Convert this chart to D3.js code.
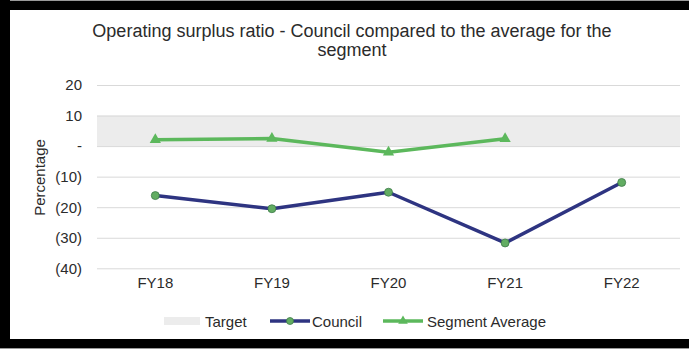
<!DOCTYPE html>
<html>
<head>
<meta charset="utf-8">
<script src="https://cdn.jsdelivr.net/npm/d3@7"></script>
<style>
  html, body { margin: 0; padding: 0; background: #fff; }
  svg { display: block; font-family: "Liberation Sans", Arial, sans-serif; }
</style>
</head>
<body>
<svg id="chart" width="689" height="349"></svg>
<script>
// Financial years on the x axis
const years = ["FY18", "FY19", "FY20", "FY21", "FY22"];
// Operating surplus ratio (%) for the council
const councilValues = [-16.2, -20.5, -15.1, -31.7, -11.9];
// Segment average (%) — no figure yet for FY22
const segmentValues = [2.1, 2.5, -2.0, 2.4, null];
// Target range (%)
const targetRange = [0, 10];
// Y axis ticks
const yTicks = [20, 10, 0, -10, -20, -30, -40];

const svg = d3.select("#chart");
const W = 689, H = 349;
const textColor = "#2b2b2b";
const councilColor = "#2e3481";
const segmentColor = "#5cb85c";
const markerFill = "#62ad62";
const FONT = "Liberation Sans, Arial, sans-serif";

// Frame
svg.append("rect").attr("x", 0).attr("y", 0).attr("width", W).attr("height", 1).attr("fill", "#999");
svg.append("rect").attr("x", 0).attr("y", 1).attr("width", W).attr("height", 9).attr("fill", "#000");
svg.append("rect").attr("x", 0).attr("y", 0).attr("width", 10).attr("height", H).attr("fill", "#000");
svg.append("rect").attr("x", 0).attr("y", 339).attr("width", W).attr("height", 9).attr("fill", "#000");
svg.append("rect").attr("x", 0).attr("y", 348).attr("width", W).attr("height", 1).attr("fill", "#999");

const x = d3.scaleBand().domain(years).range([97, 680]);
const y = d3.scaleLinear().domain([-40, 20]).range([268.3, 85]);

// Title
const title = svg.append("text")
  .attr("text-anchor", "middle")
  .attr("fill", textColor)
  .attr("font-size", 18);
title.append("tspan").attr("x", 352).attr("y", 37)
  .text("Operating surplus ratio - Council compared to the average for the");
title.append("tspan").attr("x", 352).attr("y", 56).text("segment");

// Target band
svg.append("rect")
  .attr("x", 97)
  .attr("width", 583)
  .attr("y", y(targetRange[1]))
  .attr("height", y(targetRange[0]) - y(targetRange[1]))
  .attr("fill", "#ececec");

// Gridlines + y axis labels
const yAxis = d3.axisLeft(y)
  .tickValues(yTicks)
  .tickSize(-583)
  .tickPadding(15)
  .tickFormat(d => d === 0 ? "-" : d < 0 ? `(${Math.abs(d)})` : `${d}`);
const gy = svg.append("g").attr("transform", "translate(97,0)").call(yAxis);
gy.select(".domain").remove();
gy.selectAll(".tick line").attr("stroke", "#d9d9d9").attr("stroke-width", 1);
gy.selectAll(".tick text").attr("fill", textColor).attr("font-size", 15)
  .attr("font-family", FONT);

// Y axis title
svg.append("text")
  .attr("transform", "translate(45,177.5) rotate(-90)")
  .attr("text-anchor", "middle")
  .attr("fill", textColor)
  .attr("font-size", 15)
  .text("Percentage");

// X axis labels
const xAxis = d3.axisBottom(x).tickSize(0).tickPadding(0);
const gx = svg.append("g").attr("transform", "translate(0,277)").call(xAxis);
gx.select(".domain").remove();
gx.selectAll(".tick text").attr("fill", textColor).attr("font-size", 15)
  .attr("font-family", FONT);

const cx = d => x(d) + x.bandwidth() / 2;

// Council line
const councilData = years.map((d, i) => ({ year: d, v: councilValues[i] }));
svg.append("path")
  .datum(councilData)
  .attr("fill", "none")
  .attr("stroke", councilColor)
  .attr("stroke-width", 3.5)
  .attr("stroke-linejoin", "round")
  .attr("d", d3.line().x(d => cx(d.year)).y(d => y(d.v)));
svg.selectAll(".council-pt")
  .data(councilData)
  .join("circle")
  .attr("cx", d => cx(d.year))
  .attr("cy", d => y(d.v))
  .attr("r", 4)
  .attr("fill", markerFill)
  .attr("stroke", "#3d7a4a")
  .attr("stroke-width", 0.8);

// Segment average line
const segmentData = years.map((d, i) => ({ year: d, v: segmentValues[i] })).filter(d => d.v !== null);
svg.append("path")
  .datum(segmentData)
  .attr("fill", "none")
  .attr("stroke", segmentColor)
  .attr("stroke-width", 3.5)
  .attr("stroke-linejoin", "round")
  .attr("d", d3.line().x(d => cx(d.year)).y(d => y(d.v)));
const tri = d3.symbol().type(d3.symbolTriangle).size(55);
svg.selectAll(".seg-pt")
  .data(segmentData)
  .join("path")
  .attr("transform", d => `translate(${cx(d.year)},${y(d.v)})`)
  .attr("d", tri)
  .attr("fill", segmentColor);

// Legend
const ly = 321;
const legend = svg.append("g").attr("font-size", 15).attr("fill", textColor);
legend.append("rect").attr("x", 164).attr("y", ly - 4).attr("width", 36).attr("height", 8).attr("fill", "#ececec");
legend.append("text").attr("x", 205).attr("y", ly + 5.5).text("Target");

legend.append("line").attr("x1", 270).attr("x2", 310).attr("y1", ly).attr("y2", ly)
  .attr("stroke", councilColor).attr("stroke-width", 3.5);
legend.append("circle").attr("cx", 290).attr("cy", ly).attr("r", 3.5)
  .attr("fill", markerFill).attr("stroke", "#3d7a4a").attr("stroke-width", 0.8);
legend.append("text").attr("x", 312).attr("y", ly + 5.5).text("Council");

legend.append("line").attr("x1", 383).attr("x2", 423).attr("y1", ly).attr("y2", ly)
  .attr("stroke", segmentColor).attr("stroke-width", 3.5);
legend.append("path").attr("transform", `translate(403,${ly})`).attr("d", d3.symbol().type(d3.symbolTriangle).size(40))
  .attr("fill", segmentColor);
legend.append("text").attr("x", 427).attr("y", ly + 5.5).text("Segment Average");
</script>
</body>
</html>
